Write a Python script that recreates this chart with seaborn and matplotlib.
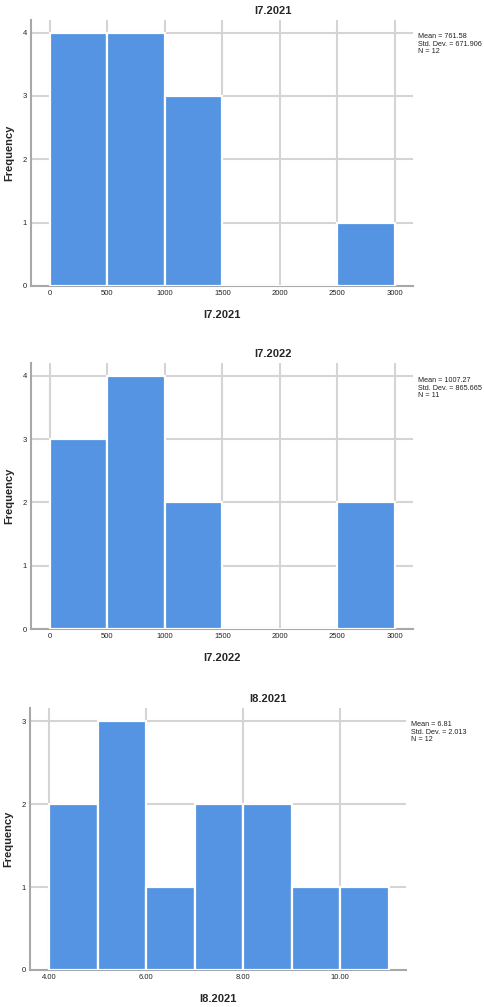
import numpy as np
import pandas as pd
import seaborn as sns
import matplotlib.pyplot as plt

# bin edges and counts
i7_2021_edges = [0, 500, 1000, 1500, 2000, 2500, 3000]
i7_2021_counts = [4, 4, 3, 0, 0, 1]
i7_2021_stats = "Mean = 761.58\nStd. Dev. = 671.906\nN = 12"

i7_2022_edges = [0, 500, 1000, 1500, 2000, 2500, 3000]
i7_2022_counts = [3, 4, 2, 0, 0, 2]
i7_2022_stats = "Mean = 1007.27\nStd. Dev. = 865.665\nN = 11"

i8_2021_edges = [4, 5, 6, 7, 8, 9, 10, 11]
i8_2021_counts = [2, 3, 1, 2, 2, 1, 1]
i8_2021_stats = "Mean = 6.81\nStd. Dev. = 2.013\nN = 12"

BAR = "#5594E2"
GRID = "#d4d4d4"
SPINE = "#a8a8a8"

sns.set_style("white")
plt.rcParams["font.family"] = ["Liberation Sans", "DejaVu Sans"]

W, H = 484, 1007
fig = plt.figure(figsize=(W / 100, H / 100), dpi=100)


def px_axes(left, top, right, bottom):
    return fig.add_axes([left / W, 1 - bottom / H, (right - left) / W, (bottom - top) / H])


def panel(ax, name, edges, counts, stats, xlim, ylim, xticks, xfmt, stats_xy, title_x):
    e = np.array(edges, dtype=float)
    df = pd.DataFrame({"mid": (e[:-1] + e[1:]) / 2, "count": counts})
    sns.histplot(data=df, x="mid", weights="count", bins=list(edges), ax=ax,
                 color=BAR, alpha=1, edgecolor="white", linewidth=1.6, zorder=3)
    ax.set_xlim(*xlim)
    ax.set_ylim(*ylim)
    ax.set_xticks(xticks)
    ax.set_xticklabels([xfmt.format(t) for t in xticks])
    ax.set_yticks(range(int(ylim[1]) + 1))
    ax.grid(True, color=GRID, linewidth=1.5, zorder=0)
    ax.set_axisbelow(True)
    for s in ["top", "right"]:
        ax.spines[s].set_visible(False)
    for s in ["left", "bottom"]:
        ax.spines[s].set_color(SPINE)
        ax.spines[s].set_linewidth(1.5)
    ax.tick_params(length=0, labelsize=5.5, pad=3, colors="#222222")
    ax.set_xlabel(name, fontsize=8, fontweight="bold", labelpad=9)
    ax.set_ylabel("Frequency", fontsize=8, fontweight="bold", labelpad=6)
    bb = ax.get_position()
    fig.text(title_x / W, bb.y1 + 9 / H, name, ha="center", va="center",
             fontsize=8, fontweight="bold")
    fig.text(stats_xy[0] / W, 1 - stats_xy[1] / H, stats, ha="left", va="top",
             fontsize=5.2, linespacing=1.1, color="#222222")


ax1 = px_axes(31, 20, 413, 286)
panel(ax1, "I7.2021", i7_2021_edges, i7_2021_counts, i7_2021_stats,
      (-165, 3157), (0, 4.2), [0, 500, 1000, 1500, 2000, 2500, 3000], "{:.0f}",
      (418, 33), 273)

ax2 = px_axes(31, 363, 413, 629)
panel(ax2, "I7.2022", i7_2022_edges, i7_2022_counts, i7_2022_stats,
      (-165, 3157), (0, 4.2), [0, 500, 1000, 1500, 2000, 2500, 3000], "{:.0f}",
      (418, 377), 273)

ax3 = px_axes(30, 708, 406, 970)
panel(ax3, "I8.2021", i8_2021_edges, i8_2021_counts, i8_2021_stats,
      (3.6, 11.36), (0, 3.16), [4, 6, 8, 10], "{:.2f}",
      (411, 721), 268)

fig.savefig("out.png", dpi=100)
